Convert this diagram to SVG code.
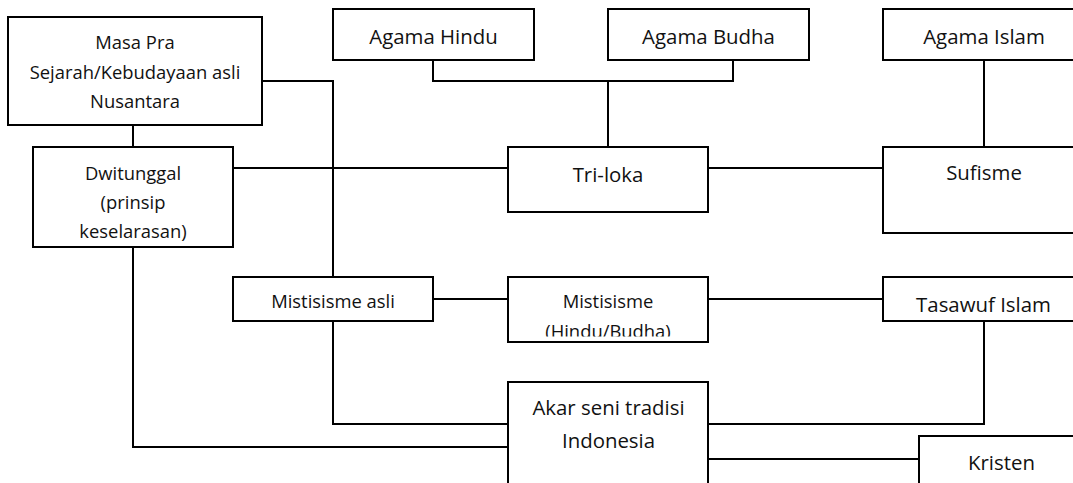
<svg xmlns="http://www.w3.org/2000/svg" width="1073" height="483" viewBox="0 0 1073 483">
  <style>
    .box { fill: #ffffff; stroke: #000000; stroke-width: 2; }
    .con { fill: none; stroke: #000000; stroke-width: 2; }
    .t { font-family: "Open Sans", "Liberation Sans", sans-serif; fill: #111111; text-anchor: middle; }
    .lg { font-size: 20.4px; }
    .sm { font-size: 18.4px; }
  </style>
  <defs>
    <clipPath id="clipMHB">
      <rect x="508" y="277" width="200" height="59.5"/>
    </clipPath>
  </defs>
  <rect x="0" y="0" width="1073" height="483" fill="#ffffff"/>

  <g id="connectors">
    <path class="con" d="M133 125 V147"/>
    <path class="con" d="M258 81 H333 V277"/>
    <path class="con" d="M233 168 H508"/>
    <path class="con" d="M433 60 V81 H733 V60"/>
    <path class="con" d="M608 81 V147"/>
    <path class="con" d="M708 168 H883"/>
    <path class="con" d="M984 60 V147"/>
    <path class="con" d="M433 299 H508"/>
    <path class="con" d="M708 299 H883"/>
    <path class="con" d="M333 321 V424 H508"/>
    <path class="con" d="M133 248 V447 H508"/>
    <path class="con" d="M984 321 V424 H708"/>
    <path class="con" d="M708 459 H919"/>
  </g>

  <g id="masa-pra">
    <rect class="box" x="8" y="17" width="254" height="108"/>
    <text class="t sm" x="135" y="49">Masa Pra</text>
    <text class="t sm" x="135" y="79">Sejarah/Kebudayaan asli</text>
    <text class="t sm" x="135" y="108">Nusantara</text>
  </g>

  <g id="dwitunggal">
    <rect class="box" x="33" y="147" width="200" height="100"/>
    <text class="t sm" x="133" y="179.5">Dwitunggal</text>
    <text class="t sm" x="133" y="208.5">(prinsip</text>
    <text class="t sm" x="133" y="237.7">keselarasan)</text>
  </g>

  <g id="agama-hindu">
    <rect class="box" x="333" y="9" width="201" height="51"/>
    <text class="t lg" x="433.5" y="44">Agama Hindu</text>
  </g>

  <g id="agama-budha">
    <rect class="box" x="608" y="9" width="201" height="51"/>
    <text class="t lg" x="708.5" y="44">Agama Budha</text>
  </g>

  <g id="agama-islam">
    <rect class="box" x="883" y="9" width="201" height="51"/>
    <text class="t lg" x="984" y="44">Agama Islam</text>
  </g>

  <g id="tri-loka">
    <rect class="box" x="508" y="147" width="200" height="65"/>
    <text class="t lg" x="608" y="181.5">Tri-loka</text>
  </g>

  <g id="sufisme">
    <rect class="box" x="883" y="147" width="201" height="86"/>
    <text class="t lg" x="984" y="179.5">Sufisme</text>
  </g>

  <g id="mistisisme-asli">
    <rect class="box" x="233" y="277" width="200" height="44"/>
    <text class="t sm" x="333" y="308">Mistisisme asli</text>
  </g>

  <g id="mistisisme-hindu-budha">
    <rect class="box" x="508" y="277" width="200" height="65"/>
    <g clip-path="url(#clipMHB)">
      <text class="t sm" x="608" y="308.3">Mistisisme</text>
      <text class="t sm" x="608" y="337.8">(Hindu/Budha)</text>
    </g>
  </g>

  <g id="tasawuf-islam">
    <rect class="box" x="883" y="277" width="201" height="44"/>
    <text class="t lg" x="983.5" y="311.7">Tasawuf Islam</text>
  </g>

  <g id="akar-seni">
    <rect class="box" x="508" y="382" width="200" height="110"/>
    <text class="t lg" x="608.5" y="415">Akar seni tradisi</text>
    <text class="t lg" x="608.5" y="448">Indonesia</text>
  </g>

  <g id="kristen">
    <rect class="box" x="919" y="436" width="200" height="60"/>
    <text class="t lg" x="1001.5" y="470">Kristen</text>
  </g>
</svg>
